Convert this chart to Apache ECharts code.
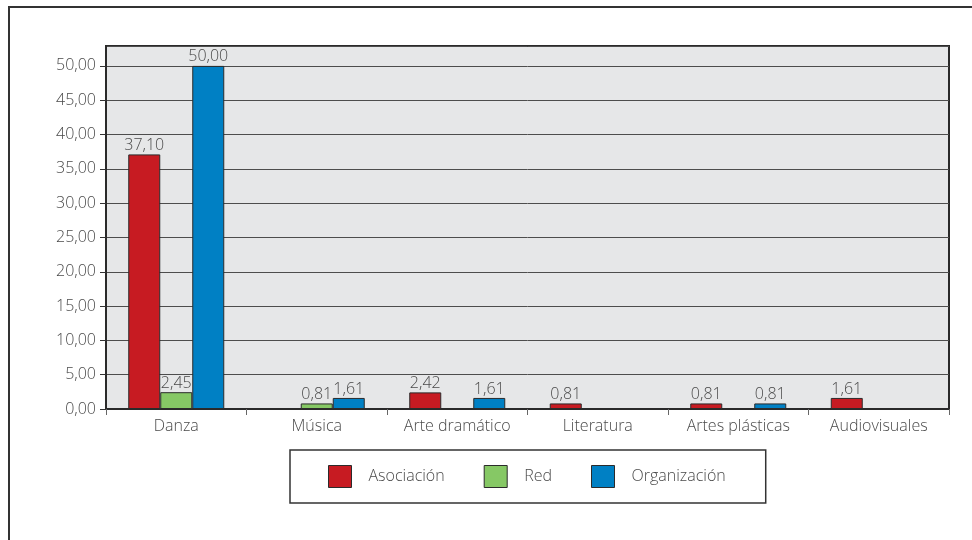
<!DOCTYPE html>
<html>
<head>
<meta charset="utf-8">
<script src="https://cdn.jsdelivr.net/npm/echarts@6/dist/echarts.min.js"></script>
<style>
  html, body { margin: 0; padding: 0; background: #ffffff; }
  #chart { width: 972px; height: 540px; }
</style>
</head>
<body>
<div id="chart"></div>
<script>
// Disciplinas artísticas y tipo de agrupación (porcentajes)
const categories = ['Danza', 'Música', 'Arte dramático', 'Literatura', 'Artes plásticas', 'Audiovisuales'];
const asociacion = [37.10, null, 2.42, 0.81, 0.81, 1.61];
const red = [2.45, 0.81, null, null, null, null];
const organizacion = [50.00, 1.61, 1.61, null, 0.81, null];

const seriesNames = ['Asociación', 'Red', 'Organización'];
const seriesColors = ['#c71b22', '#86c865', '#0080c4'];

const fmt = v => Number(v).toFixed(2).replace('.', ',');
const fontFamily = '"Open Sans", "Noto Sans", sans-serif';
const textColor = '#4a4a4a';

const chart = echarts.init(document.getElementById('chart'));

function makeSeries(name, data, color) {
  return {
    name: name,
    type: 'bar',
    data: data,
    barWidth: 32,
    barGap: '0%',
    itemStyle: { color: color, borderColor: '#2b2b2b', borderWidth: 1 },
    label: {
      show: true,
      position: 'top',
      distance: 1,
      color: textColor,
      fontFamily: fontFamily,
      fontWeight: 300,
      fontSize: 16,
      formatter: p => fmt(p.value)
    }
  };
}

chart.setOption({
  animation: false,
  backgroundColor: '#ffffff',
  graphic: [{
    type: 'rect',
    shape: { x: 9, y: 7, width: 1000, height: 600 },
    style: { fill: 'none', stroke: '#333333', lineWidth: 2 },
    silent: true
  }],
  grid: {
    left: 106, top: 46, right: 23, bottom: 131,
    show: true,
    backgroundColor: '#e6e7e8',
    borderColor: '#2a2a2a',
    borderWidth: 2
  },
  legend: {
    data: seriesNames,
    icon: 'rect',
    left: 290,
    top: 450,
    orient: 'horizontal',
    itemWidth: 23,
    itemHeight: 22,
    itemGap: 39,
    padding: [15, 40, 15, 38],
    borderColor: '#333333',
    borderWidth: 1.5,
    backgroundColor: '#ffffff',
    textStyle: { color: textColor, fontFamily: fontFamily, fontWeight: 300, fontSize: 16, padding: [0, 0, 0, 12] },
    itemStyle: { borderColor: '#2b2b2b', borderWidth: 1 }
  },
  xAxis: {
    type: 'category',
    data: categories,
    axisLine: { show: true, lineStyle: { color: '#2a2a2a', width: 2 } },
    axisTick: { show: true, length: 6, alignWithLabel: false, lineStyle: { color: '#666666' } },
    axisLabel: { color: textColor, fontFamily: fontFamily, fontWeight: 300, fontSize: 16, margin: 9 }
  },
  yAxis: {
    type: 'value',
    min: 0,
    max: 52.9,
    interval: 5,
    axisLine: { show: true, lineStyle: { color: '#2a2a2a', width: 2 } },
    axisTick: { show: true, length: 6, lineStyle: { color: '#333333' } },
    axisLabel: {
      color: textColor,
      fontFamily: fontFamily,
      fontWeight: 300,
      fontSize: 16,
      margin: 10,
      showMaxLabel: false,
      formatter: v => fmt(v)
    },
    splitLine: { show: true, lineStyle: { color: '#4d4d4d', width: 1 } }
  },
  series: [
    makeSeries(seriesNames[0], asociacion, seriesColors[0]),
    makeSeries(seriesNames[1], red, seriesColors[1]),
    makeSeries(seriesNames[2], organizacion, seriesColors[2])
  ]
});
</script>
</body>
</html>
